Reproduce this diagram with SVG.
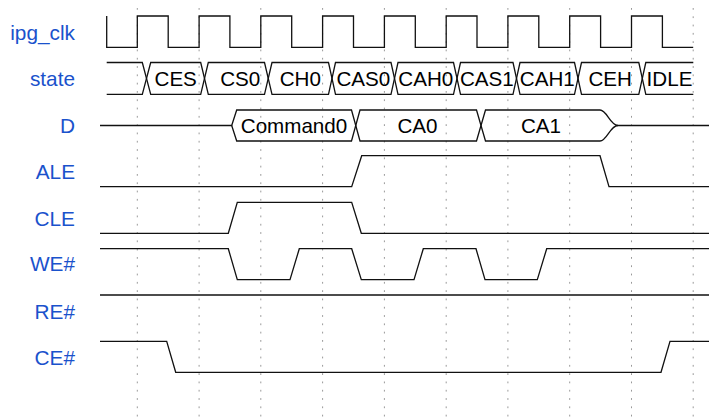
<svg xmlns="http://www.w3.org/2000/svg" width="709" height="419" viewBox="0 0 709 419">
<style>
.lbl{font-family:"Liberation Sans",Arial,Helvetica,sans-serif;font-size:20.8px;fill:#1a52cc;text-anchor:end}
.txt{font-family:"Liberation Sans",Arial,Helvetica,sans-serif;font-size:20.6px;fill:#000;text-anchor:middle}
.w{fill:none;stroke:#111;stroke-width:1.3;stroke-linejoin:miter}
.g{stroke:#999;stroke-width:1;stroke-dasharray:1.8 6.5}
</style>
<rect width="709" height="419" fill="#fff"/>
<g id="grid">
<line class="g" x1="137.3" y1="8" x2="137.3" y2="419"/>
<line class="g" x1="199.1" y1="8" x2="199.1" y2="419"/>
<line class="g" x1="260.8" y1="8" x2="260.8" y2="419"/>
<line class="g" x1="322.6" y1="8" x2="322.6" y2="419"/>
<line class="g" x1="384.4" y1="8" x2="384.4" y2="419"/>
<line class="g" x1="446.2" y1="8" x2="446.2" y2="419"/>
<line class="g" x1="507.9" y1="8" x2="507.9" y2="419"/>
<line class="g" x1="569.7" y1="8" x2="569.7" y2="419"/>
<line class="g" x1="631.5" y1="8" x2="631.5" y2="419"/>
<line class="g" x1="693.2" y1="8" x2="693.2" y2="419"/>
</g>
<g id="ipg_clk">
<text class="lbl" x="75" y="40">ipg_clk</text>
<path class="w" d="M106.7,16 V47.3 H137.3 V16 H168.2 V47.3 H199.1 V16 H229.9 V47.3 H260.8 V16 H291.7 V47.3 H322.6 V16 H353.5 V47.3 H384.4 V16 H415.3 V47.3 H446.2 V16 H477 V47.3 H507.9 V16 H538.8 V47.3 H569.7 V16 H600.6 V47.3 H631.5 V16 H662.4 V47.3 H693.2"/>
</g>
<g id="state">
<text class="lbl" x="75" y="86">state</text>
<path class="w" d="M106.7,62.5 H142.3 L150.7,94.3 H200.7 L208.3,62.5 H264.5 L272,94.3 H328.5 L335.5,62.5 H391 L398,94.3 H453.5 L460.5,62.5 H513 L520,94.3 H574.5 L581.5,62.5 H638.8 L645.8,94.3 H693.3"/>
<path class="w" d="M106.7,94.3 H142.3 L150.7,62.5 H200.7 L208.3,94.3 H264.5 L272,62.5 H328.5 L335.5,94.3 H391 L398,62.5 H453.5 L460.5,94.3 H513 L520,62.5 H574.5 L581.5,94.3 H638.8 L645.8,62.5 H693.3"/>
<text class="txt" x="175.7" y="86">CES</text>
<text class="txt" x="240.2" y="86">CS0</text>
<text class="txt" x="300.3" y="86">CH0</text>
<text class="txt" x="363.3" y="86">CAS0</text>
<text class="txt" x="425.8" y="86">CAH0</text>
<text class="txt" x="486.8" y="86">CAS1</text>
<text class="txt" x="547.3" y="86">CAH1</text>
<text class="txt" x="610.2" y="86">CEH</text>
<text class="txt" x="669.5" y="86">IDLE</text>
</g>
<g id="D">
<text class="lbl" x="75" y="133">D</text>
<path class="w" d="M100,125.5 H231.7 L236.7,110 H351.5 L360,141 H476.5 L485.5,110 H600 C607,110 610,125.5 618,125.5 H709"/>
<path class="w" d="M231.7,125.5 L236.7,141 H351.5 L360,110 H476.5 L485.5,141 H600 C607,141 610,125.5 618,125.5"/>
<text class="txt" x="294" y="133">Command0</text>
<text class="txt" x="417.5" y="133">CA0</text>
<text class="txt" x="541" y="133">CA1</text>
</g>
<g id="ALE">
<text class="lbl" x="75" y="179">ALE</text>
<path class="w" d="M100,186.7 H351.7 L361.7,155.7 H600 L609,186.7 H709"/>
</g>
<g id="CLE">
<text class="lbl" x="75" y="225.5">CLE</text>
<path class="w" d="M100,233.3 H228.3 L237.3,202.3 H351.7 L361.3,233.3 H709"/>
</g>
<g id="WE">
<text class="lbl" x="75" y="271">WE#</text>
<path class="w" d="M100,248.7 H228.3 L237.3,279.7 H290 L299.3,248.7 H351.7 L361.3,279.7 H414 L423.3,248.7 H476 L485,279.7 H537.3 L546.7,248.7 H709"/>
</g>
<g id="RE">
<text class="lbl" x="75" y="319">RE#</text>
<path class="w" d="M100,295 H709"/>
</g>
<g id="CE">
<text class="lbl" x="75" y="364.5">CE#</text>
<path class="w" d="M100,341.3 H166.7 L175.7,372.3 H661 L670,341.3 H709"/>
</g>
</svg>
